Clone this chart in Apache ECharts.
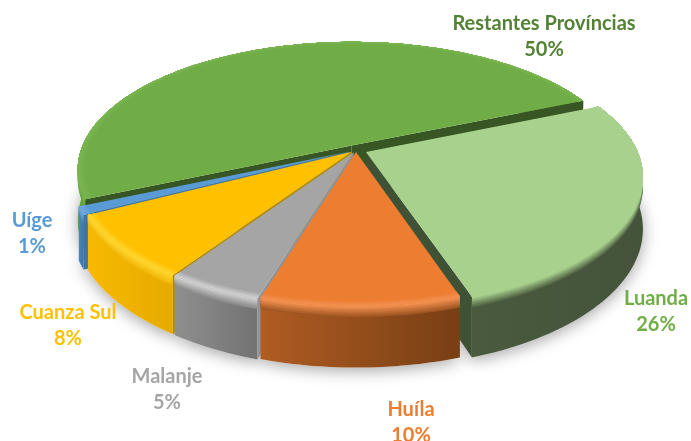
<!DOCTYPE html>
<html><head><meta charset="utf-8">
<style>html,body{margin:0;padding:0;background:#fff}#c{width:691px;height:441px}</style>
<script src="https://cdn.jsdelivr.net/npm/echarts@6/dist/echarts.min.js"></script>
</head><body><div id="c"></div>
<script>
// Data, clockwise from the Luanda / Restantes boundary (slice sizes)
const categories = ['Luanda', 'Huíla', 'Malanje', 'Cuanza Sul', 'Uíge', 'Restantes Províncias'];
const shares = [26.3, 9.75, 4.7, 8, 1, 50.25];

// Styles and layout (not data)
const STYLE = {
  'Luanda':               {rank:1, top:'#a9d18e', rim:'#a9d18e', wallL:'#4a5a3e', wallR:'#44533a', cut:'#3f5236', text:'#70ad47', ex:.04,  lab:[656,312]},
  'Huíla':                {rank:5, top:'#ed7d31', rim:'#f29050', wallL:'#b05c22', wallR:'#773f14', cut:'#a85a22', text:'#ed7d31', ex:.016, lab:[411,423]},
  'Malanje':              {rank:4, top:'#a5a5a5', rim:'#cfcfcf', wallL:'#8f8f8f', wallR:'#727272', cut:'#8d9397', text:'#a5a5a5', ex:.02,  lab:[167,390]},
  'Cuanza Sul':           {rank:3, top:'#ffc000', rim:'#ffd52e', wallL:'#f7b900', wallR:'#e6aa00', cut:'#b48a00', text:'#ffc000', ex:.02,  lab:[68,326]},
  'Uíge':                 {rank:2, top:'#5b9bd5', rim:'#6fa9dd', wallL:'#4a86bd', wallR:'#3f74a6', cut:'#3f74a6', text:'#5b9bd5', ex:.032, lab:[32,234]},
  'Restantes Províncias': {rank:0, top:'#70ad47', rim:'#7ab552', wallL:'#64a53c', wallR:'#5b9a36', cut:'#375623', text:'#548235', ex:.04,  lab:[544,37]}
};
const START_DEG = 67, CX = 356, CY = 150, A = 271, B = 124.5, K = 0.186, DEPTH = 50;

function project(th, r, drop, ex, ey) {
  const X = Math.sin(th) * r + ex, Y = -Math.cos(th) * r + ey, w = 1 - K * Y;
  return [CX + A * X / w, CY + (B * Y + DEPTH * drop) / w];
}
function arc(a0, a1, r, drop, ex, ey) {
  const n = Math.max(2, Math.ceil((a1 - a0) / (Math.PI / 120))), pts = [];
  for (let i = 0; i <= n; i++) pts.push(project(a0 + (a1 - a0) * i / n, r, drop, ex, ey));
  return pts;
}
function mix(c1, c2, t) {
  const p = c => [1, 3, 5].map(i => parseInt(c.substr(i, 2), 16));
  const a = p(c1), b = p(c2);
  return '#' + a.map((v, i) => Math.round(v + (b[i] - v) * t).toString(16).padStart(2, '0')).join('');
}
const total = shares.reduce((s, v) => s + v, 0);
const cum = []; shares.reduce((s, v, i) => (cum[i] = s, s + v), 0);

function renderItem(params, api) {
  const i = params.dataIndex, name = categories[i], st = STYLE[name], v = api.value(0);
  const a0 = (START_DEG + cum[i] / total * 360) * Math.PI / 180;
  const a1 = a0 + v / total * 2 * Math.PI, mid = (a0 + a1) / 2;
  const ex = Math.sin(mid) * st.ex, ey = -Math.cos(mid) * st.ex;
  const kids = [];
  let z = st.rank * 100 + 10;
  const poly = (points, fill) => kids.push({type:'polygon', z2:z++, shape:{points}, style:{fill}});
  // ground shadow
  const apexB = project(0, 0, 1, ex, ey), apex = project(0, 0, 0, ex, ey);
  kids.push({type:'polygon', z2:-10, shape:{points:[apexB].concat(arc(a0, a1, 1, 1, ex, ey))},
    style:{fill:'#fff', shadowColor:'rgba(0,0,0,0.36)', shadowBlur:16, shadowOffsetY:3}});
  // outer wall
  const grad = new echarts.graphic.LinearGradient(0, 0, 1, 0, [{offset:0, color:st.wallL}, {offset:1, color:st.wallR}]);
  poly(arc(a0, a1, 1, 0, ex, ey).concat(arc(a0, a1, 1, 1, ex, ey).reverse()), grad);
  // soft bevel below the edge: overlapping bands, widest first
  const wallMid = mix(st.wallL, st.wallR, 0.5);
  const n = 7;
  for (let s = 0; s < n; s++) {
    const d = 0.18 * (1 - s / n);
    poly(arc(a0, a1, 1, 0, ex, ey).concat(arc(a0, a1, 1, d, ex, ey).reverse()), mix(wallMid, st.rim, (s + 1) / n));
  }
  // radial cut faces that look toward the viewer
  [[a0, Math.sin(a0) < 0], [a1, Math.sin(a1) > 0]].forEach(([a, visible]) => {
    if (visible) poly([apex, project(a, 1, 0, ex, ey), project(a, 1, 1, ex, ey), apexB], st.cut);
  });
  // top face, with a soft ring just inside the edge (overlapping, widest first)
  poly([apex].concat(arc(a0, a1, 1, 0, ex, ey)), st.top);
  for (let s = 0; s < n; s++) {
    const r = 1 - 0.028 * (1 - s / n);
    poly(arc(a0, a1, 1, 0, ex, ey).concat(arc(a0, a1, r, 0, ex, ey).reverse()), mix(st.top, st.rim, (s + 1) / n));
  }
  // label
  kids.push({type:'text', z2:1000, style:{x:st.lab[0], y:st.lab[1],
    text: name + '\n' + Math.round(v / total * 100) + '%', fill:st.text,
    font:'bold 20px Lato', lineHeight:26, align:'center', verticalAlign:'middle'}});
  return {type:'group', children:kids};
}

const chart = echarts.init(document.getElementById('c'), null, {renderer:'canvas'});
chart.setOption({
  animation:false,
  series:[{type:'custom', coordinateSystem:'none', renderItem,
    data: shares.map((v, i) => ({name:categories[i], value:[v]}))}]
});
</script></body></html>
